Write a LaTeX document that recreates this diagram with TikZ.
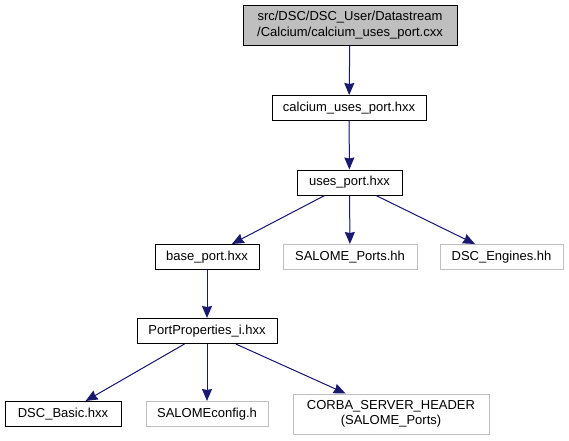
\documentclass[tikz,border=0pt]{standalone}
\usepackage{fontspec}
\setmainfont{Liberation Sans}
\usetikzlibrary{arrows.meta}
\definecolor{edgeBlue}{RGB}{25,25,112}
\definecolor{ghostGray}{RGB}{191,191,191}

\begin{document}
\begin{tikzpicture}[
    x=1pt, y=-1pt,
    font=\fontsize{13}{15.5}\selectfont,
    file/.style={
        rectangle, draw=black, line width=1pt, fill=white,
        minimum height=25pt, inner sep=0pt, align=center
    },
    extfile/.style={file, draw=ghostGray},
    rootfile/.style={file, fill=ghostGray, minimum height=40pt},
    incl/.style={-{Stealth[length=12pt, width=10pt, inset=1pt]}, line width=1pt, draw=edgeBlue, fill=edgeBlue}
]
    \useasboundingbox (0,0) rectangle (569,440);

    % Source file and its direct includes
    \node [rootfile, minimum width=214pt] (cxx) at (350,25)
        {src/DSC/DSC\_User/Datastream\\/Calcium/calcium\_uses\_port.cxx};
    \node [file, minimum width=154pt] (calhxx) at (349,108) {calcium\_uses\_port.hxx};
    \node [file, minimum width=105pt] (useshxx) at (349.5,182.5) {uses\_port.hxx};

    % Third row
    \node [file, minimum width=104pt] (basehxx) at (207,257) {base\_port.hxx};
    \node [extfile, minimum width=134pt] (saloports) at (350,257) {SALOME\_Ports.hh};
    \node [extfile, minimum width=123pt] (dscengines) at (501.5,257) {DSC\_Engines.hh};

    % Port properties and its includes
    \node [file, minimum width=140pt] (portprops) at (207,331) {PortProperties\_i.hxx};
    \node [file, minimum width=116pt] (dscbasic) at (63,414) {DSC\_Basic.hxx};
    \node [extfile, minimum width=122pt] (saloconf) at (207,414) {SALOMEconfig.h};
    \node [extfile, minimum width=196pt, minimum height=40pt] (corbahdr) at (391,414)
        {CORBA\_SERVER\_HEADER\\(SALOME\_Ports)};

    % Include edges
    \draw [incl] (cxx) -- (calhxx);
    \draw [incl] (calhxx) -- (useshxx);
    \draw [incl] (useshxx) -- (basehxx);
    \draw [incl] (useshxx) -- (saloports);
    \draw [incl] (useshxx) -- (dscengines);
    \draw [incl] (basehxx) -- (portprops);
    \draw [incl] (portprops) -- (dscbasic);
    \draw [incl] (portprops) -- (saloconf);
    \draw [incl] (portprops) -- (corbahdr);

\end{tikzpicture}
\end{document}
